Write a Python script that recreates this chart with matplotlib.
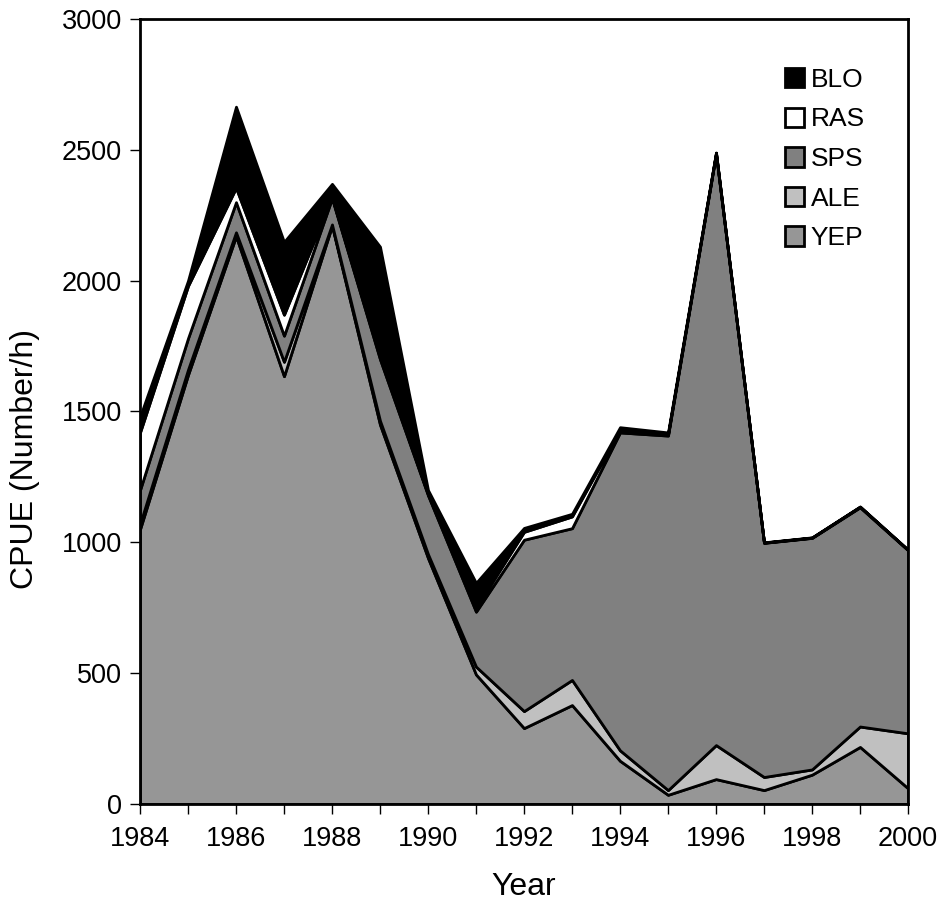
import numpy as np
import matplotlib
matplotlib.use('Agg')
import matplotlib.pyplot as plt
from matplotlib.patches import Patch

plt.rcParams['font.family'] = ['Liberation Sans', 'DejaVu Sans']

# ---------------------------------------------------------
# Datos (CPUE, número/h)
# ---------------------------------------------------------
years = np.arange(1984, 2001)
yep = [1050, 1640, 2170, 1635, 2210, 1450, 940, 495, 290, 378, 165, 35, 95, 53, 112, 218, 60]
ale = [20, 20, 15, 55, 5, 15, 15, 30, 65, 96, 40, 18, 130, 50, 20, 78, 210]
sps = [130, 120, 115, 100, 100, 235, 225, 210, 655, 580, 1215, 1355, 2260, 895, 885, 838, 700]
ras = [220, 200, 55, 80, 5, 10, 5, 15, 30, 45, 10, 5, 3, 1, 1, 2, 1]
blo = [60, 20, 310, 278, 50, 420, 15, 95, 15, 10, 10, 7, 2, 1, 1, 1, 1]

especies = ['YEP', 'ALE', 'SPS', 'RAS', 'BLO']
colores = ['#969696', '#c0c0c0', '#808080', '#ffffff', '#000000']

fig = plt.figure(figsize=(9.42, 9.11), dpi=100)
ax = fig.add_axes([0.1486, 0.1175, 0.8153, 0.8616])

ax.stackplot(years, yep, ale, sps, ras, blo, colors=colores,
             edgecolor='black', linewidth=2)

ax.set_xlim(1984, 2000)
ax.set_ylim(0, 3000)
ax.set_yticks(np.arange(0, 3001, 500))
ax.set_xticks(years)
ax.set_xticklabels([str(y) if y % 2 == 0 else '' for y in years])
ax.tick_params(axis='both', direction='out', length=7, width=1, labelsize=19.5, pad=6)
ax.tick_params(axis='x', pad=9)
for s in ax.spines.values():
    s.set_linewidth(2)
    s.set_zorder(5)

ax.set_xlabel('Year', fontsize=23, labelpad=14)
ax.set_ylabel('CPUE (Number/h)', fontsize=23)
ax.yaxis.set_label_coords(-0.13, 0.44)

# leyenda en orden inverso (de arriba hacia abajo)
handles = [Patch(facecolor=c, edgecolor='black', linewidth=2) for c in colores][::-1]
ax.legend(handles, especies[::-1], loc='upper right', bbox_to_anchor=(0.975, 0.968),
          frameon=False, fontsize=19, handlelength=0.75, handleheight=0.75,
          handletextpad=0.25, labelspacing=0.59)

fig.savefig('out.png', dpi=100)
